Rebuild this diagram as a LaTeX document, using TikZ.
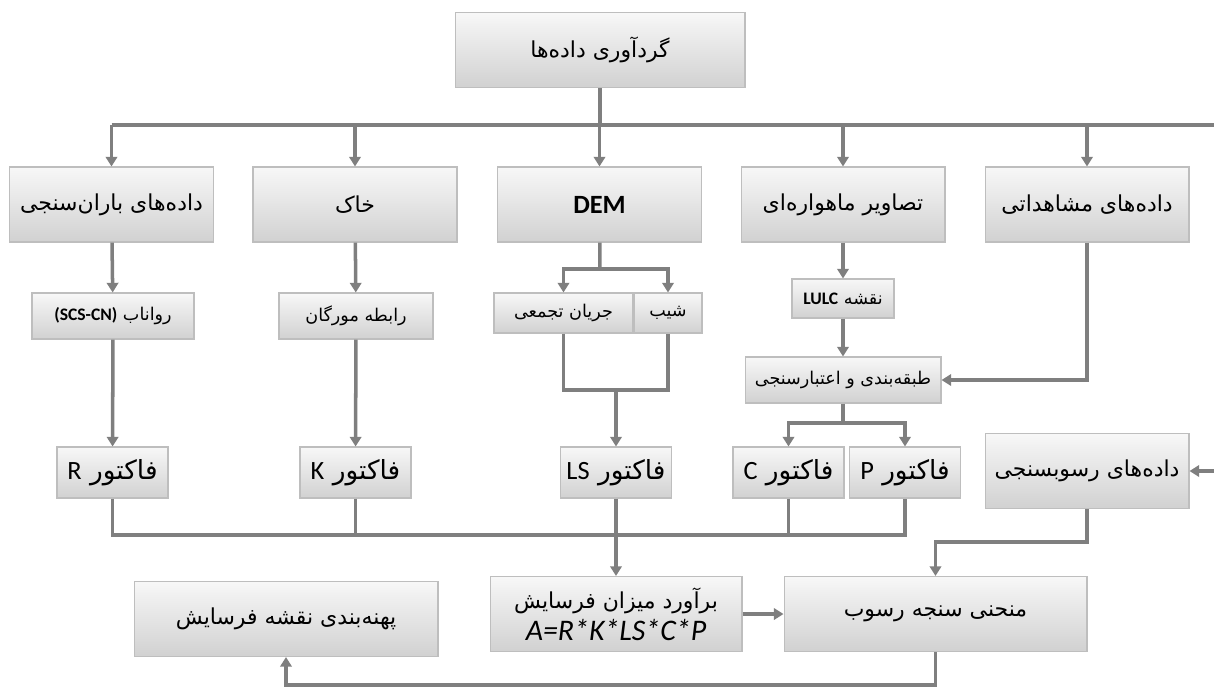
\documentclass[tikz,border=0pt]{standalone}
\usepackage{fontspec}
\setmainfont{Carlito}
\newfontfamily\farsifont[Script=Arabic]{DejaVu Sans}
\TeXXeTstate=1
\usetikzlibrary{arrows.meta,positioning,calc}
\definecolor{linegray}{RGB}{127,127,127}
\definecolor{boxline}{RGB}{190,190,190}
\newcommand{\fatxt}[1]{{\farsifont\beginR #1\endR}}
\newcommand{\lat}[1]{\beginL{\rmfamily #1}\endL}

\begin{document}
\begin{tikzpicture}[
  x=0.02cm, y=-0.02cm,
  box/.style={rectangle, draw=boxline, line width=0.6pt, top color=white!97!black, bottom color=white!82!black, align=center, inner sep=2pt},
  bigbox/.style={box, minimum width=4.08cm, minimum height=1.5cm, font=\fontsize{12.5}{15}\selectfont},
  midbox/.style={box, minimum height=0.92cm, font=\fontsize{10}{12}\selectfont},
  facbox/.style={box, minimum width=2.22cm, minimum height=1.02cm, font=\fontsize{15}{18}\selectfont},
  conn/.style={draw=linegray, line width=2pt},
  >={Triangle[length=5.5pt, width=6.5pt]}
]
  \useasboundingbox (0,0) rectangle (1214,687);

  \node[bigbox, minimum width=5.8cm] (gather) at (600,50) {\fatxt{گردآوری داده‌ها}};

  \node[bigbox] (rain) at (111.5,204.5) {\fatxt{داده‌های باران‌سنجی}};
  \node[bigbox] (soil) at (355,204.5)   {\fatxt{خاک}};
  \node[bigbox, font=\fontsize{15}{18}\selectfont\bfseries] (dem) at (599.5,204.5) {DEM};
  \node[bigbox] (sat)  at (843,204.5)   {\fatxt{تصاویر ماهواره‌ای}};
  \node[bigbox] (obs)  at (1087,204.5)  {\fatxt{داده‌های مشاهداتی}};

  \node[midbox, minimum width=3.24cm] (runoff)  at (113,316)   {\fatxt{رواناب \lat{\bfseries(SCS-CN)}}};
  \node[midbox, minimum width=3.08cm] (morgan)  at (356,316)   {\fatxt{رابطه مورگان}};
  \node[midbox, minimum width=2.78cm, minimum height=0.8cm] (flowacc) at (563.5,313) {\fatxt{جریان تجمعی}};
  \node[midbox, minimum width=1.36cm, minimum height=0.8cm] (slope)   at (668,313)   {\fatxt{شیب}};
  \node[midbox, minimum width=2.04cm, minimum height=0.78cm] (lulc)   at (843,298.5) {\fatxt{نقشه \lat{\bfseries LULC}}};
  \node[midbox, minimum width=3.92cm] (classify) at (843,380)  {\fatxt{طبقه‌بندی و اعتبارسنجی}};

  \node[facbox] (rfac)  at (112.5,472.5) {\fatxt{فاکتور \lat{R}}};
  \node[facbox] (kfac)  at (355.5,472.5) {\fatxt{فاکتور \lat{K}}};
  \node[facbox] (lsfac) at (616,472.5)   {\fatxt{فاکتور \lat{LS}}};
  \node[facbox] (cfac)  at (788.5,472.5) {\fatxt{فاکتور \lat{C}}};
  \node[facbox] (pfac)  at (905,472.5)   {\fatxt{فاکتور \lat{P}}};
  \node[bigbox] (sedobs) at (1087,471)   {\fatxt{داده‌های رسوبسنجی}};

  \node[bigbox, minimum width=6.08cm] (zoning)   at (286,619)   {\fatxt{پهنه‌بندی نقشه فرسایش}};
  \node[bigbox, minimum width=5.04cm] (estimate) at (616,614)
    {\fatxt{برآورد میزان فرسایش}\\[2pt]{\fontsize{17}{17}\selectfont\itshape A=R*K*LS*C*P}};
  \node[bigbox, minimum width=6.06cm] (curve)    at (935.5,614) {\fatxt{منحنی سنجه رسوب}};

  % turning points of the connectors
  \coordinate (busL) at (111.5,125);
  \coordinate (busR) at (1214,125);
  \coordinate (demsplit) at (600,269);
  \coordinate (lsjoin) at (616,390);
  \coordinate (cpsplit) at (843,423);
  \coordinate (facbus) at (0,535);
  \coordinate (sedin) at (1214,471);
  \coordinate (sedturn) at (1087,542);
  \coordinate (low) at (0,685);

  % data collection
  \draw[conn] (gather) -- (gather |- busL);
  \draw[conn] (busL) -- (busR);
  \draw[conn, ->] (rain |- busL) -- (rain);
  \draw[conn, ->] (soil |- busL) -- (soil);
  \draw[conn, ->] (dem |- busL) -- (dem);
  \draw[conn, ->] (sat |- busL) -- (sat);
  \draw[conn, ->] (obs |- busL) -- (obs);

  % the factors
  \draw[conn, ->] (rain) -- (runoff);
  \draw[conn, ->] (runoff) -- (rfac);
  \draw[conn, ->] (soil) -- (morgan);
  \draw[conn, ->] (morgan) -- (kfac);
  \draw[conn] (dem) -- (demsplit);
  \draw[conn, ->] (demsplit) -| (flowacc);
  \draw[conn, ->] (demsplit) -| (slope);
  \draw[conn] (flowacc.south) |- (lsjoin) -| (slope.south);
  \draw[conn, ->] (lsjoin) -- (lsfac);
  \draw[conn, ->] (sat) -- (lulc);
  \draw[conn, ->] (lulc) -- (classify);
  \draw[conn, ->] (obs) |- (classify);
  \draw[conn] (classify) -- (cpsplit);
  \draw[conn, ->] (cpsplit) -| (cfac);
  \draw[conn, ->] (cpsplit) -| (pfac);

  % erosion and sediment
  \draw[conn] (rfac.south) |- (pfac |- facbus) -- (pfac.south);
  \draw[conn] (kfac) -- (kfac |- facbus);
  \draw[conn] (cfac) -- (cfac |- facbus);
  \draw[conn, ->] (lsfac) -- (estimate);
  \draw[conn, ->] (estimate) -- (curve);
  \draw[conn, ->] (sedin) -- (sedobs);
  \draw[conn, ->] (sedobs) -- (sedturn) -| (curve);
  \draw[conn, ->] (curve.south) -- (curve |- low) -| (zoning.south);
\end{tikzpicture}
\end{document}
